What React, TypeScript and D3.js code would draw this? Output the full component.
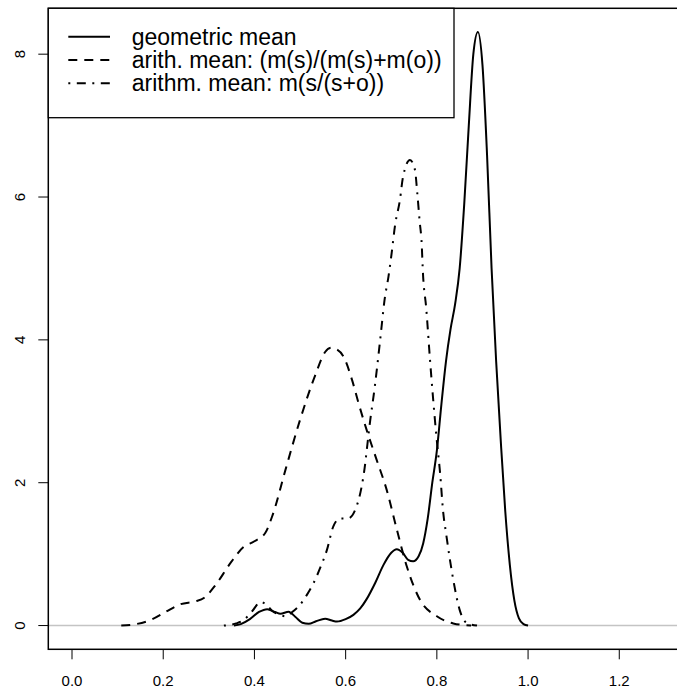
import React from "react";
import * as d3 from "d3";

const geoX = [0.355, 0.37, 0.39, 0.41, 0.428, 0.445, 0.457, 0.475, 0.49, 0.505, 0.519, 0.535, 0.555, 0.57, 0.581, 0.6, 0.617, 0.632, 0.646, 0.665, 0.683, 0.7, 0.712, 0.725, 0.737, 0.748, 0.76, 0.77, 0.78, 0.79, 0.8, 0.81, 0.82, 0.83, 0.84, 0.85, 0.86, 0.87, 0.88, 0.89, 0.9, 0.91, 0.92, 0.93, 0.94, 0.95, 0.96, 0.97, 0.98, 0.99, 1.0];
const geoY = [0, 0.02, 0.09, 0.19, 0.23, 0.19, 0.165, 0.195, 0.12, 0.04, 0.025, 0.06, 0.095, 0.07, 0.056, 0.09, 0.15, 0.24, 0.37, 0.6, 0.85, 1.02, 1.07, 1.02, 0.92, 0.9, 0.97, 1.15, 1.5, 2.0, 2.45, 3.1, 3.7, 4.15, 4.5, 5.0, 5.9, 7.0, 8.0, 8.31, 7.85, 6.6, 5.0, 3.7, 2.6, 1.6, 0.85, 0.35, 0.1, 0.02, 0];

const ariX = [0.108, 0.14, 0.173, 0.205, 0.238, 0.271, 0.29, 0.315, 0.348, 0.376, 0.4, 0.424, 0.44, 0.468, 0.5, 0.533, 0.555, 0.568, 0.58, 0.595, 0.614, 0.628, 0.646, 0.668, 0.69, 0.712, 0.734, 0.763, 0.8, 0.836, 0.875];
const ariY = [0, 0.02, 0.08, 0.19, 0.3, 0.34, 0.39, 0.57, 0.88, 1.1, 1.18, 1.3, 1.55, 2.18, 2.88, 3.5, 3.83, 3.89, 3.87, 3.77, 3.44, 3.12, 2.74, 2.32, 1.9, 1.35, 0.83, 0.36, 0.13, 0.03, 0];

const armX = [0.333, 0.36, 0.377, 0.395, 0.413, 0.425, 0.44, 0.457, 0.468, 0.485, 0.5, 0.515, 0.53, 0.545, 0.559, 0.573, 0.588, 0.605, 0.624, 0.639, 0.654, 0.664, 0.675, 0.686, 0.694, 0.701, 0.708, 0.719, 0.726, 0.741, 0.752, 0.757, 0.762, 0.767, 0.769, 0.777, 0.785, 0.792, 0.799, 0.807, 0.814, 0.82, 0.836, 0.85, 0.865, 0.888];
const armY = [0, 0.03, 0.08, 0.2, 0.33, 0.3, 0.2, 0.15, 0.13, 0.2, 0.29, 0.43, 0.6, 0.82, 1.06, 1.39, 1.5, 1.5, 1.67, 2.09, 2.88, 3.35, 3.96, 4.59, 4.89, 5.22, 5.59, 5.96, 6.29, 6.52, 6.38, 6.06, 5.68, 5.31, 5.0, 4.42, 3.72, 3.16, 2.65, 2.14, 1.58, 1.3, 0.64, 0.22, 0.04, 0];

const xTicks = [0, 0.2, 0.4, 0.6, 0.8, 1.0, 1.2];
const yTicks = [0, 2, 4, 6, 8];
const legendLabels = ["geometric mean", "arith. mean: (m(s)/(m(s)+m(o))", "arithm. mean: m(s/(s+o))"];
const dashes = ["none", "9,7", "2,6.5,9,6.5"];

const W = 677;
const H = 691;
const FONT = "'Liberation Sans', Arial, Helvetica, sans-serif";

export default function App() {
  const left = 48.3, right = 688.6, top = 8.3, bottom = 649.3;
  const x = d3.scaleLinear().domain([-0.052, 1.352]).range([left, right]);
  const y = d3.scaleLinear().domain([-0.3324, 8.6424]).range([bottom, top]);
  const line = d3
    .line<[number, number]>()
    .x((d) => x(d[0]))
    .y((d) => y(d[1]))
    .curve(d3.curveMonotoneX);
  const series = [
    geoX.map((v, i) => [v, geoY[i]] as [number, number]),
    ariX.map((v, i) => [v, ariY[i]] as [number, number]),
    armX.map((v, i) => [v, armY[i]] as [number, number]),
  ];
  const legRows = [36.7, 60, 83.3];
  return (
    <svg
      width={W}
      height={H}
      style={{ position: "absolute", left: 0, top: 0, background: "#fff" }}
      fontFamily={FONT}
    >
      <rect x={0} y={0} width={W} height={H} fill="#fff" />
      <line x1={left} x2={right} y1={y(0)} y2={y(0)} stroke="#c4c4c4" strokeWidth={1.6} />
      {series.map((s, i) => (
        <path
          key={i}
          d={line(s) || ""}
          fill="none"
          stroke="#000"
          strokeWidth={2}
          strokeDasharray={dashes[i]}
        />
      ))}
      <rect x={left} y={top} width={right - left} height={bottom - top} fill="none" stroke="#000" strokeWidth={1.5} />
      {xTicks.map((t) => (
        <g key={t}>
          <line x1={x(t)} x2={x(t)} y1={bottom} y2={bottom + 10} stroke="#000" strokeWidth={1} />
          <text x={x(t)} y={685.5} textAnchor="middle" fontSize={15}>
            {t.toFixed(1)}
          </text>
        </g>
      ))}
      {yTicks.map((t) => (
        <g key={t}>
          <line x1={left - 10} x2={left} y1={y(t)} y2={y(t)} stroke="#000" strokeWidth={1} />
          <text
            transform={`translate(25,${y(t)}) rotate(-90)`}
            textAnchor="middle"
            fontSize={15}
          >
            {t}
          </text>
        </g>
      ))}
      <rect x={left} y={top} width={454 - left} height={117.7 - top} fill="#fff" stroke="#000" strokeWidth={1.3} />
      {legendLabels.map((lab, i) => (
        <g key={lab}>
          <line
            x1={68.3}
            x2={110}
            y1={legRows[i]}
            y2={legRows[i]}
            stroke="#000"
            strokeWidth={2}
            strokeDasharray={dashes[i]}
          />
          <text x={131.7} y={legRows[i]} dy="0.35em" fontSize={23}>
            {lab}
          </text>
        </g>
      ))}
    </svg>
  );
}
